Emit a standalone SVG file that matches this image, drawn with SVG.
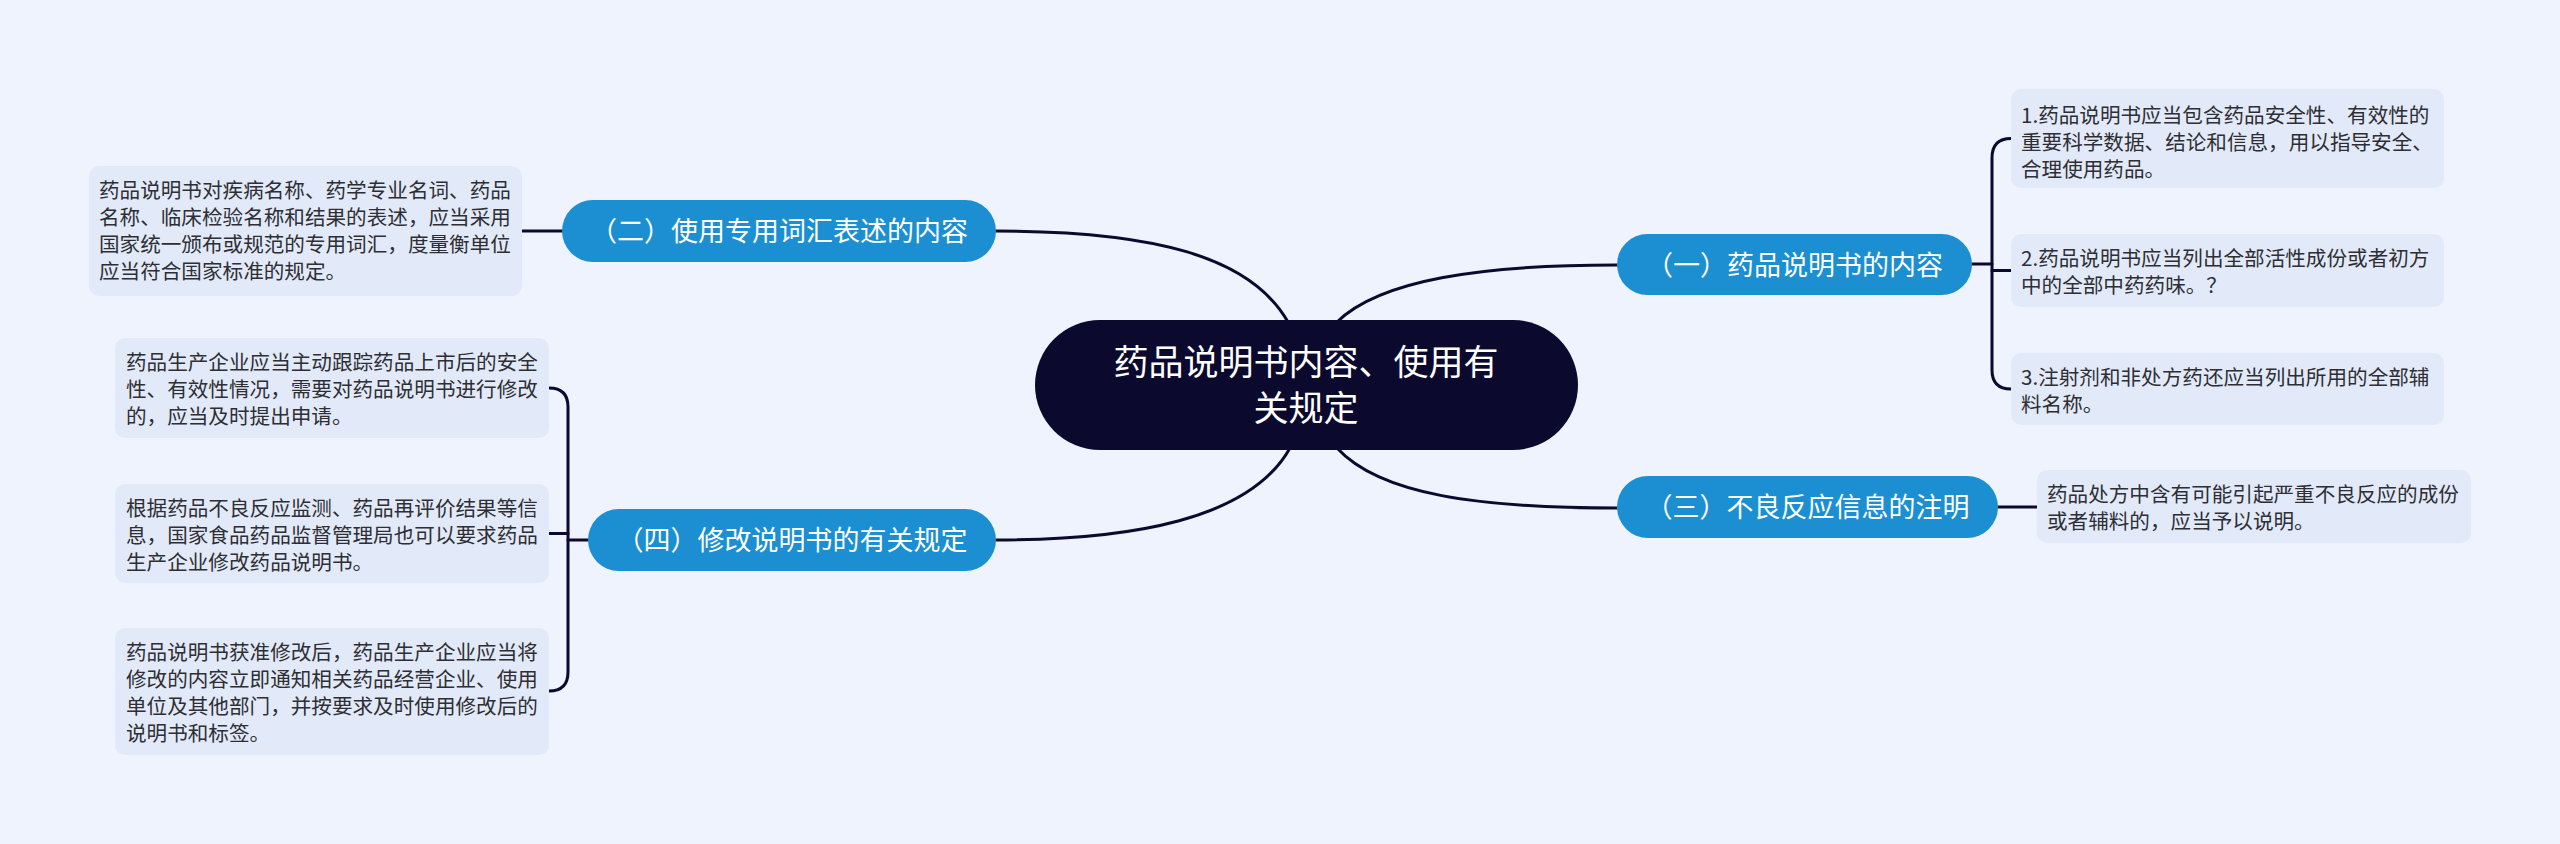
<svg xmlns="http://www.w3.org/2000/svg" width="2560" height="844" viewBox="0 0 2560 844">
<style>
.bg{fill:#eef3fd}
.leaf rect{fill:#e2eafa}
.leaf text{font-family:"Noto Sans CJK SC","Noto Sans",sans-serif;font-size:20.6px;fill:#2e2e33}
.main rect{fill:#1b8fd1}
.main text{font-family:"Noto Sans CJK SC","Noto Sans",sans-serif;font-size:27px;fill:#ffffff;text-anchor:middle}
.root rect{fill:#0b0a2e}
.root text{font-family:"Noto Sans CJK SC","Noto Sans",sans-serif;font-size:35px;fill:#ffffff;text-anchor:middle}
.conn path{fill:none;stroke:#0b0a2e;stroke-width:3;stroke-linecap:round}
</style>
<rect class="bg" x="0" y="0" width="2560" height="844"/>
<g id="connectors" class="conn">
<path d="M996,231 C1150,231 1250,255 1288,322"/>
<path d="M1337,322 C1380,280 1480,265 1617,265"/>
<path d="M1290,448 C1250,520 1130,540 996,540"/>
<path d="M1337,448 C1380,495 1480,508 1617,508"/>
<path d="M522,231 H562"/>
<path d="M1998,507 H2037"/>
<path d="M1972,264 H1992"/>
<path d="M2011,138.5 Q1992,138.5 1992,158 V370 Q1992,389 2011,389"/>
<path d="M1992,270.5 H2011"/>
<path d="M588,540 H568"/>
<path d="M549,388 Q568,388 568,407 V672 Q568,691 549,691"/>
<path d="M549,533.5 H568"/>
</g>
<g id="root" class="root">
<rect x="1035" y="320" width="543" height="130" rx="65"/>
<text x="1306" y="375">药品说明书内容、使用有</text>
<text x="1306" y="421">关规定</text>
</g>
<g id="n2" class="main">
<rect x="562" y="200" width="434" height="62" rx="31"/>
<text x="779" y="241">（二）使用专用词汇表述的内容</text>
</g>
<g id="n4" class="main">
<rect x="588" y="509" width="408" height="62" rx="31"/>
<text x="792" y="550">（四）修改说明书的有关规定</text>
</g>
<g id="n1" class="main">
<rect x="1617" y="234" width="355" height="61" rx="30.5"/>
<text x="1794.5" y="274.5">（一）药品说明书的内容</text>
</g>
<g id="n3" class="main">
<rect x="1617" y="476" width="381" height="62" rx="31"/>
<text x="1807.5" y="517">（三）不良反应信息的注明</text>
</g>
<g id="leaf2" class="leaf">
<rect x="89" y="166" width="433" height="130" rx="10"/>
<text x="99" y="198">药品说明书对疾病名称、药学专业名词、药品</text>
<text x="99" y="225">名称、临床检验名称和结果的表述，应当采用</text>
<text x="99" y="252">国家统一颁布或规范的专用词汇，度量衡单位</text>
<text x="99" y="279">应当符合国家标准的规定。</text>
</g>
<g id="leaf4a" class="leaf">
<rect x="115" y="338" width="434" height="100" rx="10"/>
<text x="126" y="369.5">药品生产企业应当主动跟踪药品上市后的安全</text>
<text x="126" y="396.5">性、有效性情况，需要对药品说明书进行修改</text>
<text x="126" y="423.5">的，应当及时提出申请。</text>
</g>
<g id="leaf4b" class="leaf">
<rect x="115" y="484" width="434" height="99" rx="10"/>
<text x="126" y="515.5">根据药品不良反应监测、药品再评价结果等信</text>
<text x="126" y="542.5">息，国家食品药品监督管理局也可以要求药品</text>
<text x="126" y="569.5">生产企业修改药品说明书。</text>
</g>
<g id="leaf4c" class="leaf">
<rect x="115" y="628" width="434" height="127" rx="10"/>
<text x="126" y="659.5">药品说明书获准修改后，药品生产企业应当将</text>
<text x="126" y="686.5">修改的内容立即通知相关药品经营企业、使用</text>
<text x="126" y="713.5">单位及其他部门，并按要求及时使用修改后的</text>
<text x="126" y="740.5">说明书和标签。</text>
</g>
<g id="leaf1a" class="leaf">
<rect x="2011" y="89" width="433" height="99" rx="10"/>
<text x="2021" y="122.5">1.药品说明书应当包含药品安全性、有效性的</text>
<text x="2021" y="149.5">重要科学数据、结论和信息，用以指导安全、</text>
<text x="2021" y="176.5">合理使用药品。</text>
</g>
<g id="leaf1b" class="leaf">
<rect x="2011" y="234" width="433" height="73" rx="10"/>
<text x="2021" y="265.5">2.药品说明书应当列出全部活性成份或者初方</text>
<text x="2021" y="292.5">中的全部中药药味。？</text>
</g>
<g id="leaf1c" class="leaf">
<rect x="2011" y="353" width="433" height="72" rx="10"/>
<text x="2021" y="384.5">3.注射剂和非处方药还应当列出所用的全部辅</text>
<text x="2021" y="411.5">料名称。</text>
</g>
<g id="leaf3" class="leaf">
<rect x="2037" y="470" width="434" height="73" rx="10"/>
<text x="2047" y="502">药品处方中含有可能引起严重不良反应的成份</text>
<text x="2047" y="529">或者辅料的，应当予以说明。</text>
</g>
</svg>
